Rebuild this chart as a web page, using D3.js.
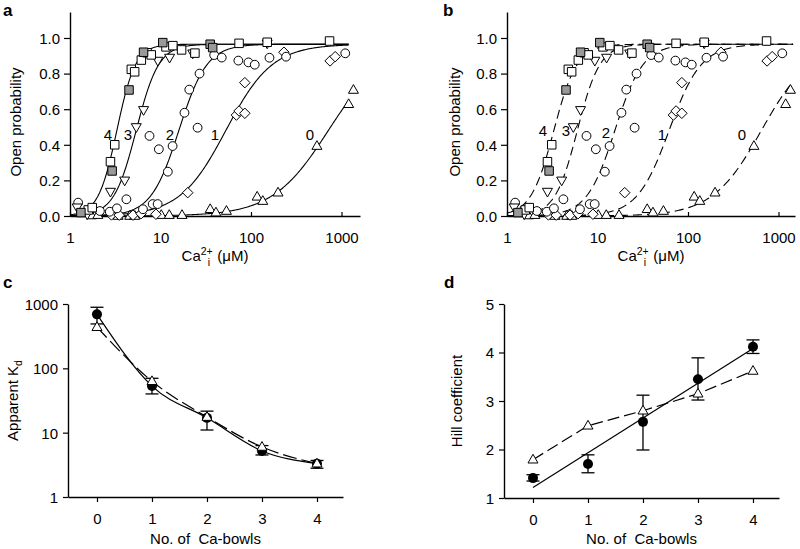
<!DOCTYPE html>
<html><head><meta charset="utf-8">
<script src="https://cdn.jsdelivr.net/npm/d3@7"></script>
<style>
body{margin:0;background:#fff}
text{font-family:"Liberation Sans",Arial,Helvetica,sans-serif;fill:#000}
</style>
</head><body>
<svg id="fig" width="800" height="549" xmlns="http://www.w3.org/2000/svg"></svg>
<script>
// ---------- DATA ----------
// Panels a & b: [Ca2+ (µM), open probability]
const sq4White = [[1.59,0.034],[1.76,0.047],[2.8,0.305],[3.12,0.40],[4.76,0.824],[5.18,0.81],[6.14,0.876],[7.1,0.917],[7.9,0.905],[11.5,0.95],[13.7,0.957],[17.1,0.933],[24,0.915],[73.8,0.97],[151,0.976],[738,0.983]];
const sq4Gray  = [[1.32,0.019],[2.92,0.253],[4.49,0.708],[6.5,0.92],[10.6,0.974],[35.4,0.965],[37.7,0.946]];
const tri3Down = [[1.2,0.049],[1.55,0.01],[2.8,0.137],[4.02,0.20],[5.4,0.50],[6.5,0.596],[9.34,0.873],[12.6,0.89],[22.7,0.914],[151,0.97]];
const circ2    = [[1.23,0.075],[2.14,0.028],[2.75,0.024],[3.3,0.043],[4.2,0.094],[6.4,0.038],[7.56,0.45],[8.2,0.067],[9.3,0.067],[9.59,0.375],[12.05,0.249],[13.6,0.393],[18.4,0.58],[20.8,0.71],[25.7,0.496],[27,0.80],[39.2,0.904],[47.5,0.89],[72.5,0.873],[93.7,0.863],[110,0.85],[160,0.889],[244,0.895],[1100,0.914]];
const diam1    = [[2.87,0.006],[3.5,0.005],[4.97,0.005],[6.1,0.013],[8.9,0.01],[20,0.131],[69,0.567],[73.8,0.59],[85.5,0.577],[85.5,0.749],[231,0.92],[748,0.871],[851,0.895]];
const triUp0   = [[1.73,0.003],[2.03,0.005],[3.4,0.0],[4.57,0.0],[5.2,0.0],[10.2,0.005],[12.5,0.005],[17.3,0.005],[35.4,0.038],[41,0.019],[53.5,0.028],[117,0.108],[135,0.084],[199,0.131],[535,0.393],[1200,0.628],[1355,0.708]];

// Fit curves (Hill): bowls, Kd (µM), Hill n
const curveBowls = [0,1,2,3,4];
const pMax = 0.965;
const fitKdA = [720,53,16,5.4,3.3];
const fitNA  = [1.4,1.7,2.8,3.5,4.2];
const fitKdB = [650,62,15.6,6.0,3.3];
const fitNB  = [1.6,2.45,2.8,3.5,3.4];
const abTicksX = [1,10,100,1000];
const abTicksY = [0,0.2,0.4,0.6,0.8,1.0];

// Panels c & d
const bowls = [0,1,2,3,4];
const kdExp   = [690,53,17,5.2,3.3];
const kdExpLo = [490,40,11,4.5,2.8];
const kdExpHi = [890,70,21.6,6.3,3.7];
const kdModel = [436,63,17.5,6.0,3.3];
const hillExp   = [1.41,1.70,2.57,3.45,4.12];
const hillExpLo = [1.35,1.52,1.99,3.02,3.98];
const hillExpHi = [1.48,1.89,3.12,3.89,4.26];
const hillModel = [1.79,2.49,2.80,3.15,3.62];
const kdTicks = [1,10,100,1000];
const hillTicks = [1,2,3,4,5];

// ---------- DRAW ----------
const svg = d3.select("#fig");
const FS = 15;

function shapePath(type, s){
  if(type==="square") return `M${-s/2},${-s/2}h${s}v${s}h${-s}Z`;
  if(type==="diamond") return `M0,${-s/2}L${s/2},0L0,${s/2}L${-s/2},0Z`;
  const h = s*0.87;
  if(type==="triUp") return `M0,${-h*0.62}L${s/2},${h*0.38}L${-s/2},${h*0.38}Z`;
  if(type==="triDown") return `M0,${h*0.62}L${s/2},${-h*0.38}L${-s/2},${-h*0.38}Z`;
}

function styleAxis(g){
  g.selectAll("path.domain").attr("stroke","#000").attr("stroke-width",1.4);
  g.selectAll(".tick line").attr("stroke","#000").attr("stroke-width",1.2);
  g.selectAll("text").attr("font-size",FS).attr("font-family",'"Liberation Sans",Arial,sans-serif');
}

function panelAB(x0, x1, kd, nn, dashed, labelPos, yTitleX){
  const x = d3.scaleLog().domain([1, Math.pow(10,(x1-x0)/90.5)]).range([x0,x1]);
  const y = d3.scaleLinear().domain([0,1.146]).range([216,12]);
  const g = svg.append("g");
  const line = d3.line().x(d=>x(d[0])).y(d=>y(d[1]));
  curveBowls.forEach((b,i)=>{
    const pts=[];
    const xmax = dashed?1450:1200;
    for(let t=0;t<=300;t++){
      const c = Math.pow(10, Math.log10(xmax)*t/300);
      pts.push([c, pMax/(1+Math.pow(kd[i]/c, nn[i]))]);
    }
    g.append("path").attr("d",line(pts)).attr("fill","none").attr("stroke","#000")
      .attr("stroke-width",1.1).attr("stroke-dasharray",dashed?"9,5":null);
    g.append("text").attr("x",labelPos[i][0]).attr("y",labelPos[i][1]).attr("font-size",FS)
      .attr("text-anchor","middle").text(b);
  });
  const ax = g.append("g").attr("transform","translate(0,216)")
    .call(d3.axisBottom(x).tickValues(abTicksX).tickFormat(d3.format("d")).tickSizeInner(-4).tickSizeOuter(0).tickPadding(16));
  styleAxis(ax);
  const ay = g.append("g").attr("transform",`translate(${x0},0)`)
    .call(d3.axisLeft(y).tickValues(abTicksY).tickFormat(d3.format(".1f")).tickSizeInner(6).tickSizeOuter(0).tickPadding(4));
  styleAxis(ay);
  ay.selectAll("text").attr("dy","0.36em");
  const groups = [
    [triUp0,"triUp","#fff",10],
    [diam1,"diamond","#fff",10.5],
    [circ2,"circle","#fff",4.4],
    [tri3Down,"triDown","#fff",10],
    [sq4White,"square","#fff",8.5],
    [sq4Gray,"square","#999",8.5]
  ];
  groups.forEach(([data,type,fill,s])=>{
    data.forEach(d=>{
      if(type==="circle"){
        g.append("circle").attr("cx",x(d[0])).attr("cy",y(d[1])).attr("r",s)
          .attr("fill",fill).attr("stroke","#000").attr("stroke-width",1);
      } else {
        g.append("path").attr("d",shapePath(type,s)).attr("transform",`translate(${x(d[0])},${y(d[1])})`)
          .attr("fill",fill).attr("stroke","#000").attr("stroke-width",1);
      }
    });
  });
  const xt = g.append("text").attr("x",(x0+x1)/2).attr("y",261).attr("text-anchor","middle").attr("font-size",FS);
  xt.append("tspan").text("Ca");
  xt.append("tspan").attr("dy",-6).attr("font-size",10.5).text("2+");
  xt.append("tspan").attr("dx",-5).attr("dy",11).attr("font-size",10.5).text("i");
  xt.append("tspan").attr("dx",3).attr("dy",-5).text(" (\u03bcM)");
  g.append("text").attr("transform",`translate(${yTitleX},122) rotate(-90)`).attr("text-anchor","middle")
    .attr("font-size",FS).text("Open probability");
}

panelAB(70, 360, fitKdA, fitNA, false,
  [[310,140],[215,140],[170,140],[128,140],[108,140]], 21);
panelAB(507, 795, fitKdB, fitNB, true,
  [[742,140],[662,140],[606,138],[566,136],[543,136]], 460);

function panelCD(x0,x1,y, yTicks, yFmt, exp, lo, hi, model, title, titleX, regression){
  const x = d3.scaleLinear().domain([-0.527,4.473]).range([x0,x1]);
  const g = svg.append("g");
  const yb = y.range()[0];
  const ax = g.append("g").attr("transform",`translate(0,${yb})`)
    .call(d3.axisBottom(x).tickValues(bowls).tickFormat(d3.format("d")).tickSizeInner(5).tickSizeOuter(0).tickPadding(11));
  styleAxis(ax);
  const ay = g.append("g").attr("transform",`translate(${x0},0)`)
    .call(d3.axisLeft(y).tickValues(yTicks).tickFormat(yFmt).tickSizeInner(5).tickSizeOuter(0).tickPadding(5));
  styleAxis(ay);
  ay.selectAll("text").attr("dy","0.36em");
  const pts = bowls.map((b,i)=>[b,exp[i]]);
  const mpts = bowls.map((b,i)=>[b,model[i]]);
  if(regression){
    const mx=d3.mean(bowls), my=d3.mean(exp);
    const slope=d3.sum(bowls.map((b,i)=>(b-mx)*(exp[i]-my)))/d3.sum(bowls.map(b=>(b-mx)*(b-mx)));
    const ic=my-slope*mx;
    g.append("line").attr("x1",x(0)).attr("y1",y(ic)).attr("x2",x(4)).attr("y2",y(ic+slope*4))
      .attr("stroke","#000").attr("stroke-width",1.2);
    g.append("path").attr("d",d3.line().x(d=>x(d[0])).y(d=>y(d[1]))(mpts)).attr("fill","none")
      .attr("stroke","#000").attr("stroke-width",1.2).attr("stroke-dasharray","12,5");
  } else {
    const ln = d3.line().x(d=>x(d[0])).y(d=>y(d[1])).curve(d3.curveMonotoneX);
    g.append("path").attr("d",ln(pts)).attr("fill","none").attr("stroke","#000").attr("stroke-width",1.2);
    g.append("path").attr("d",ln(mpts)).attr("fill","none").attr("stroke","#000").attr("stroke-width",1.2)
      .attr("stroke-dasharray","14,5");
  }
  bowls.forEach((b,i)=>{
    const cx=x(b);
    g.append("line").attr("x1",cx).attr("x2",cx).attr("y1",y(lo[i])).attr("y2",y(hi[i])).attr("stroke","#000").attr("stroke-width",1.3);
    [lo[i],hi[i]].forEach(v=>g.append("line").attr("x1",cx-6.5).attr("x2",cx+6.5).attr("y1",y(v)).attr("y2",y(v)).attr("stroke","#000").attr("stroke-width",1.3));
  });
  bowls.forEach((b,i)=>{
    g.append("circle").attr("cx",x(b)).attr("cy",y(exp[i])).attr("r",5).attr("fill","#000");
  });
  bowls.forEach((b,i)=>{
    g.append("path").attr("d",shapePath("triUp",10)).attr("transform",`translate(${x(b)},${y(model[i])})`)
      .attr("fill","#fff").attr("stroke","#000").attr("stroke-width",1);
  });
  g.append("text").attr("x",(x0+x1)/2).attr("y",544).attr("text-anchor","middle").attr("font-size",FS)
    .attr("xml:space","preserve").style("white-space","pre").text("No. of  Ca-bowls");
  const yt = g.append("text").attr("transform",`translate(${titleX},${(y.range()[0]+y.range()[1])/2}) rotate(-90)`)
    .attr("text-anchor","middle").attr("font-size",FS);
  title(yt);
}

panelCD(68,343, d3.scaleLog().domain([1,1000]).range([497,304]), kdTicks, d3.format("d"),
  kdExp, kdExpLo, kdExpHi, kdModel,
  t=>{t.append("tspan").text("Apparent K"); t.append("tspan").attr("dy",4).attr("font-size",10.5).text("d");},
  18, false);
panelCD(504,779, d3.scaleLinear().domain([1,5]).range([498,304]), hillTicks, d3.format("d"),
  hillExp, hillExpLo, hillExpHi, hillModel,
  t=>{t.text("Hill coefficient");},
  462, true);

[["a",3,16],["b",443,16],["c",3,288],["d",444,288]].forEach(([l,px,py])=>{
  svg.append("text").attr("x",px).attr("y",py).attr("font-size",17).attr("font-weight","bold").text(l);
});
</script>
</body></html>
